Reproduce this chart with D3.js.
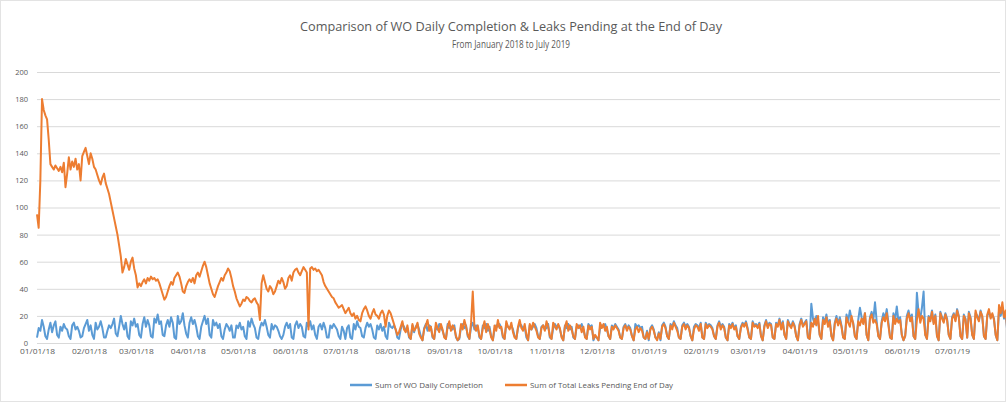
<!DOCTYPE html>
<html>
<head>
<meta charset="utf-8">
<script src="https://cdn.jsdelivr.net/npm/d3@7"></script>
<style>
  body { margin: 0; background: #fff; }
  text { font-family: "Open Sans", "Liberation Sans", sans-serif; fill: #595959; }
</style>
</head>
<body>
<div id="chart-container"></div>
<script>
// daily values, one row = one week (Mon..Sun), starting 01/01/2018
const startDate = '2018-01-01';

const completion = [
  4, 11, 9, 17, 12, 5, 3,
  10, 15, 8, 13, 16, 6, 4,
  12, 9, 14, 11, 10, 5, 3,
  13, 15, 10, 12, 9, 4, 5,
  11, 14, 17, 9, 13, 6, 3,
  15, 10, 12, 16, 11, 4, 4,
  9, 13, 11, 14, 18, 7, 5,
  12, 20, 14, 10, 15, 5, 3,
  16, 13, 18, 12, 14, 6, 4,
  14, 19, 12, 17, 13, 5, 4,
  18, 15, 21, 14, 16, 6, 5,
  13, 17, 12, 19, 15, 4, 3,
  20, 14, 16, 22, 13, 7, 4,
  15, 19, 14, 17, 12, 5, 3,
  12, 16, 20, 14, 18, 6, 4,
  17, 13, 15, 11, 14, 5, 3,
  10, 14, 12, 9, 13, 4, 4,
  13, 11, 15, 10, 12, 5, 3,
  16, 12, 18, 14, 11, 4, 3,
  11, 15, 13, 17, 12, 6, 4,
  14, 10, 13, 12, 9, 5, 3,
  6, 12, 15, 11, 14, 4, 3,
  13, 16, 11, 14, 12, 5, 4,
  15, 12, 16, 10, 13, 6, 3,
  12, 14, 10, 15, 11, 4, 4,
  13, 11, 14, 12, 10, 5, 3,
  12, 9, 3, 11, 13, 4, 3,
  14, 10, 16, 12, 11, 5, 4,
  11, 15, 12, 14, 10, 4, 3,
  13, 10, 14, 9, 12, 5, 3,
  15, 12, 11, 13, 10, 4, 3,
  10, 14, 12, 9, 11, 4, 3,
  13, 8, 12, 14, 10, 5, 2,
  11, 14, 9, 13, 12, 4, 3,
  12, 10, 14, 11, 9, 5, 3,
  14, 11, 12, 10, 13, 4, 2,
  3, 12, 14, 11, 13, 5, 3,
  12, 15, 10, 13, 11, 4, 3,
  13, 11, 14, 9, 12, 5, 2,
  10, 13, 12, 14, 11, 4, 3,
  14, 12, 11, 13, 10, 5, 3,
  11, 14, 13, 10, 12, 4, 2,
  13, 10, 12, 14, 11, 5, 3,
  12, 13, 10, 11, 14, 4, 3,
  11, 14, 12, 13, 10, 5, 2,
  13, 11, 14, 10, 12, 4, 3,
  12, 13, 11, 14, 10, 5, 3,
  14, 12, 13, 2, 5, 4, 2,
  11, 13, 12, 14, 10, 5, 3,
  13, 11, 14, 12, 10, 4, 3,
  12, 14, 10, 13, 11, 5, 2,
  14, 12, 13, 11, 12, 4, 3,
  9, 2, 11, 13, 10, 4, 3,
  8, 2, 13, 15, 12, 5, 3,
  14, 12, 16, 13, 11, 4, 3,
  13, 15, 12, 14, 12, 5, 2,
  12, 14, 13, 11, 15, 4, 3,
  15, 12, 14, 13, 11, 5, 3,
  13, 16, 12, 14, 12, 4, 2,
  14, 12, 15, 11, 13, 5, 3,
  12, 15, 13, 16, 11, 4, 3,
  16, 13, 14, 12, 15, 5, 2,
  13, 17, 12, 15, 14, 4, 3,
  15, 13, 18, 12, 16, 6, 3,
  17, 14, 12, 16, 13, 5, 2,
  14, 18, 13, 15, 17, 4, 3,
  29, 18, 14, 20, 16, 6, 3,
  19, 15, 21, 14, 17, 5, 2,
  15, 20, 14, 19, 13, 4, 3,
  21, 16, 24, 18, 15, 5, 3,
  17, 26, 19, 15, 22, 6, 2,
  19, 23, 17, 30, 16, 5, 3,
  16, 22, 18, 25, 15, 4, 3,
  22, 17, 27, 16, 19, 6, 2,
  5, 20, 24, 18, 21, 5, 3,
  37, 22, 18, 26, 38, 6, 3,
  20, 17, 24, 15, 21, 5, 2,
  23, 19, 16, 22, 18, 6, 3,
  19, 22, 17, 25, 20, 5, 3,
  21, 18, 4, 23, 19, 6, 3,
  22, 20, 17, 24, 19, 5, 3,
  20, 23, 19, 21, 18, 6, 2,
  24, 20, 26, 18, 22, 7, 4,
  22, 18, 14
];

const pending = [
  95, 85, 120, 180, 172, 168, 165,
  150, 132, 130, 128, 131, 129, 127,
  130, 126, 133, 115, 125, 137, 128,
  134, 130, 136, 128, 132, 120, 138,
  141, 144, 138, 132, 140, 136, 130,
  128, 124, 120, 117, 122, 125, 118,
  114, 110, 104, 98, 92, 86, 80,
  72, 64, 52, 56, 62, 58, 54,
  60, 63, 55, 50, 41, 44, 42,
  45, 47, 44, 48, 46, 49, 47,
  48, 46, 47, 44, 40, 36, 32,
  34, 38, 42, 45, 43, 48, 50,
  52, 49, 44, 38, 37, 42, 45,
  47, 45, 48, 44, 50, 52, 49,
  53, 57, 60, 56, 50, 44, 40,
  36, 34, 38, 42, 45, 48, 46,
  50, 52, 55, 53, 48, 42, 38,
  33, 30, 27, 29, 32, 31, 34,
  33, 31, 30, 32, 33, 30, 28,
  17, 44, 50, 45, 40, 38, 42,
  40, 36, 38, 42, 46, 44, 48,
  45, 40, 42, 48, 50, 46, 52,
  54, 55, 52, 50, 53, 56, 54,
  52, 10, 55, 56, 54, 55, 53,
  54, 52, 50, 45, 42, 40, 38,
  36, 34, 33, 30, 28, 26, 27,
  28, 25, 22, 24, 26, 22, 20,
  22, 18, 20, 17, 16, 22, 25,
  27, 24, 20, 18, 22, 25, 21,
  20, 18, 22, 24, 21, 12, 20,
  24, 22, 18, 14, 10, 6, 8,
  12, 16, 10, 8, 13, 5, 3,
  14, 9, 11, 15, 7, 4, 2,
  10, 13, 17, 9, 12, 5, 3,
  15, 11, 8, 14, 10, 4, 3,
  12, 16, 9, 13, 11, 5, 2,
  4, 14, 10, 17, 12, 6, 3,
  15, 38, 12, 9, 13, 5, 3,
  11, 16, 8, 14, 10, 4, 2,
  13, 9, 17, 11, 12, 5, 3,
  16, 12, 10, 15, 8, 4, 3,
  12, 17, 11, 9, 14, 6, 2,
  14, 10, 15, 12, 9, 4, 3,
  11, 13, 9, 16, 12, 5, 3,
  15, 12, 10, 14, 11, 4, 2,
  12, 16, 9, 13, 10, 5, 3,
  14, 11, 13, 8, 12, 4, 3,
  13, 10, 12, 3, 6, 4, 2,
  15, 11, 14, 9, 12, 5, 3,
  12, 10, 13, 11, 9, 4, 3,
  11, 13, 9, 12, 10, 5, 2,
  10, 12, 8, 11, 9, 4, 3,
  8, 3, 10, 12, 9, 4, 2,
  7, 3, 12, 14, 11, 5, 3,
  13, 10, 15, 12, 9, 4, 3,
  12, 14, 10, 13, 11, 5, 2,
  10, 13, 12, 9, 14, 4, 3,
  14, 11, 13, 12, 10, 5, 3,
  12, 15, 10, 13, 11, 4, 2,
  13, 11, 14, 10, 12, 5, 3,
  11, 14, 12, 15, 10, 4, 3,
  15, 12, 13, 11, 14, 5, 2,
  12, 16, 11, 14, 13, 4, 3,
  14, 12, 17, 10, 15, 6, 3,
  16, 13, 11, 15, 12, 5, 2,
  13, 17, 12, 14, 16, 4, 3,
  15, 12, 18, 13, 20, 6, 3,
  17, 14, 19, 12, 16, 5, 2,
  14, 18, 13, 17, 12, 4, 3,
  19, 15, 12, 20, 14, 5, 3,
  16, 13, 18, 14, 22, 6, 2,
  18, 21, 15, 17, 14, 5, 3,
  15, 19, 16, 22, 13, 4, 3,
  20, 14, 18, 15, 17, 6, 2,
  5, 18, 22, 16, 19, 5, 3,
  17, 25, 15, 20, 18, 6, 3,
  19, 16, 23, 14, 20, 5, 2,
  22, 18, 15, 21, 17, 6, 3,
  18, 21, 16, 24, 19, 5, 3,
  20, 17, 4, 22, 18, 6, 3,
  24, 19, 16, 23, 20, 5, 3,
  21, 25, 18, 22, 17, 6, 2,
  28, 22, 30, 19, 24, 8, 4,
  27, 20, 16
];

const yTicks = [0, 20, 40, 60, 80, 100, 120, 140, 160, 180, 200];
const xTickLabels = ['01/01/18', '02/01/18', '03/01/18', '04/01/18', '05/01/18', '06/01/18',
  '07/01/18', '08/01/18', '09/01/18', '10/01/18', '11/01/18', '12/01/18', '01/01/19',
  '02/01/19', '03/01/19', '04/01/19', '05/01/19', '06/01/19', '07/01/19'];
const seriesNames = ['Sum of WO Daily Completion', 'Sum of Total Leaks Pending End of Day'];
const colors = ['#5b9bd5', '#ed7d31'];

const width = 1006;
const height = 402;
const margin = { top: 72, right: 4, bottom: 59, left: 37 };

const parseDate = d3.timeParse('%m/%d/%y');
const t0 = d3.timeParse('%Y-%m-%d')(startDate);
const dates = completion.map((_, i) => d3.timeDay.offset(t0, i));

const x = d3.scaleTime()
  .domain([t0, dates[dates.length - 1]])
  .range([margin.left, margin.left + (dates.length - 1) * 1.676]);

const y = d3.scaleLinear()
  .domain([0, 200])
  .range([height - margin.bottom, margin.top]);

const svg = d3.select('#chart-container')
  .append('svg')
  .attr('width', width)
  .attr('height', height);

// outer frame
svg.append('rect')
  .attr('x', 0.5).attr('y', 0.5)
  .attr('width', width - 1).attr('height', height - 1)
  .attr('fill', '#fff')
  .attr('stroke', '#e3e3e3');

// title
svg.append('text')
  .attr('x', 511).attr('y', 31)
  .attr('text-anchor', 'middle')
  .style('font-size', '12.5px')
  .attr('textLength', 422)
  .attr('lengthAdjust', 'spacingAndGlyphs')
  .text('Comparison of WO Daily Completion & Leaks Pending at the End of Day');

svg.append('text')
  .attr('x', 511).attr('y', 48)
  .attr('text-anchor', 'middle')
  .style('font-size', '10px')
  .attr('textLength', 118)
  .attr('lengthAdjust', 'spacingAndGlyphs')
  .text('From January 2018 to July 2019');

// y axis gridlines + labels
const yAxis = d3.axisLeft(y)
  .tickValues(yTicks)
  .tickSize(-(1000 - margin.left))
  .tickPadding(9);

svg.append('g')
  .attr('transform', `translate(${margin.left},0)`)
  .call(yAxis)
  .call(g => g.select('.domain').remove())
  .call(g => g.selectAll('.tick line').attr('stroke', '#d9d9d9'))
  .call(g => g.selectAll('.tick text')
    .style('font-size', '7.5px')
    .attr('fill', '#7f7f7f'));

// x axis labels at month starts
const xAxis = d3.axisBottom(x)
  .tickValues(xTickLabels.map(parseDate))
  .tickFormat((d, i) => xTickLabels[i])
  .tickSize(0)
  .tickPadding(6);

svg.append('g')
  .attr('transform', `translate(0,${y(0)})`)
  .call(xAxis)
  .call(g => g.select('.domain').attr('stroke', '#d9d9d9').attr('d', `M${margin.left},0.5H1000`))
  .call(g => g.selectAll('.tick text')
    .style('font-size', '7px')
    .attr('fill', '#7f7f7f')
    .attr('textLength', 35)
    .attr('lengthAdjust', 'spacingAndGlyphs'));

// lines
const line = d3.line()
  .x((d, i) => x(dates[i]))
  .y(d => y(d));

[completion, pending].forEach((series, k) => {
  svg.append('path')
    .datum(series)
    .attr('fill', 'none')
    .attr('stroke', colors[k])
    .attr('stroke-width', 2)
    .attr('stroke-linejoin', 'round')
    .attr('d', line);
});

// legend
const legendX = [350, 505];
const legend = svg.selectAll('.legend')
  .data(seriesNames)
  .enter()
  .append('g')
  .attr('transform', (d, i) => `translate(${legendX[i]},385)`);

legend.append('line')
  .attr('x1', 0).attr('x2', 22)
  .attr('stroke', (d, i) => colors[i])
  .attr('stroke-width', 2.5);

legend.append('text')
  .attr('x', 25).attr('y', 3)
  .style('font-size', '7.5px')
  .attr('fill', '#7f7f7f')
  .attr('textLength', (d, i) => [108, 143][i])
  .attr('lengthAdjust', 'spacingAndGlyphs')
  .text(d => d);
</script>
</body>
</html>
